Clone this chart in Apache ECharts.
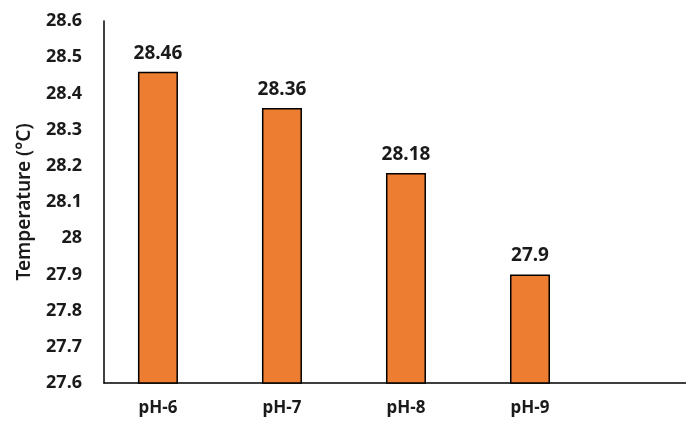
<!DOCTYPE html>
<html><head><meta charset="utf-8">
<script src="https://cdn.jsdelivr.net/npm/echarts@6/dist/echarts.min.js"></script>
<style>html,body{margin:0;padding:0;background:#fff}#c{width:686px;height:430px}</style>
</head><body><div id="c"></div>
<script>
const categories = ['pH-6', 'pH-7', 'pH-8', 'pH-9'];
const temperatures = [28.46, 28.36, 28.18, 27.9];
const yTicks = [27.6, 27.7, 27.8, 27.9, 28, 28.1, 28.2, 28.3, 28.4, 28.5, 28.6];

const font = '"Noto Sans", "Open Sans", sans-serif';
const chart = echarts.init(document.getElementById('c'), null, {renderer: 'canvas'});
chart.setOption({
  animation: false,
  grid: {left: 104, right: 0, top: 21, bottom: 47},
  xAxis: {
    type: 'value', min: -0.435, max: 4.258,
    splitLine: {show: false},
    axisLine: {show: true, onZero: false, lineStyle: {color: '#000', width: 1.5}},
    axisTick: {show: false},
    axisLabel: {
      customValues: [0, 1, 2, 3],
      formatter: v => categories[Math.round(v)] || '',
      margin: 17, color: '#1a1a1a', fontWeight: 'bold', fontSize: 17, fontFamily: font
    }
  },
  yAxis: {
    type: 'value', min: 27.6, max: 28.6, interval: 0.1,
    name: 'Temperature (°C)', nameLocation: 'middle', nameGap: 70,
    nameTextStyle: {color: '#1a1a1a', fontSize: 19, fontWeight: 600, fontFamily: font},
    splitLine: {show: false},
    axisLine: {show: true, onZero: false, lineStyle: {color: '#000', width: 1.5}},
    axisTick: {show: false},
    axisLabel: {
      customValues: yTicks,
      formatter: v => String(Math.round(v * 10) / 10),
      margin: 22, color: '#1a1a1a', fontWeight: 'bold', fontSize: 18, fontFamily: font
    }
  },
  series: [{
    type: 'bar',
    barWidth: 40,
    data: temperatures.map((v, i) => [i, v]),
    itemStyle: {color: '#ED7D31', borderColor: '#000', borderWidth: 1.5},
    label: {
      show: true, position: 'top', distance: 9,
      formatter: p => String(p.value[1]),
      color: '#1a1a1a', fontWeight: 'bold', fontSize: 19, fontFamily: font
    }
  }]
});
</script></body></html>
